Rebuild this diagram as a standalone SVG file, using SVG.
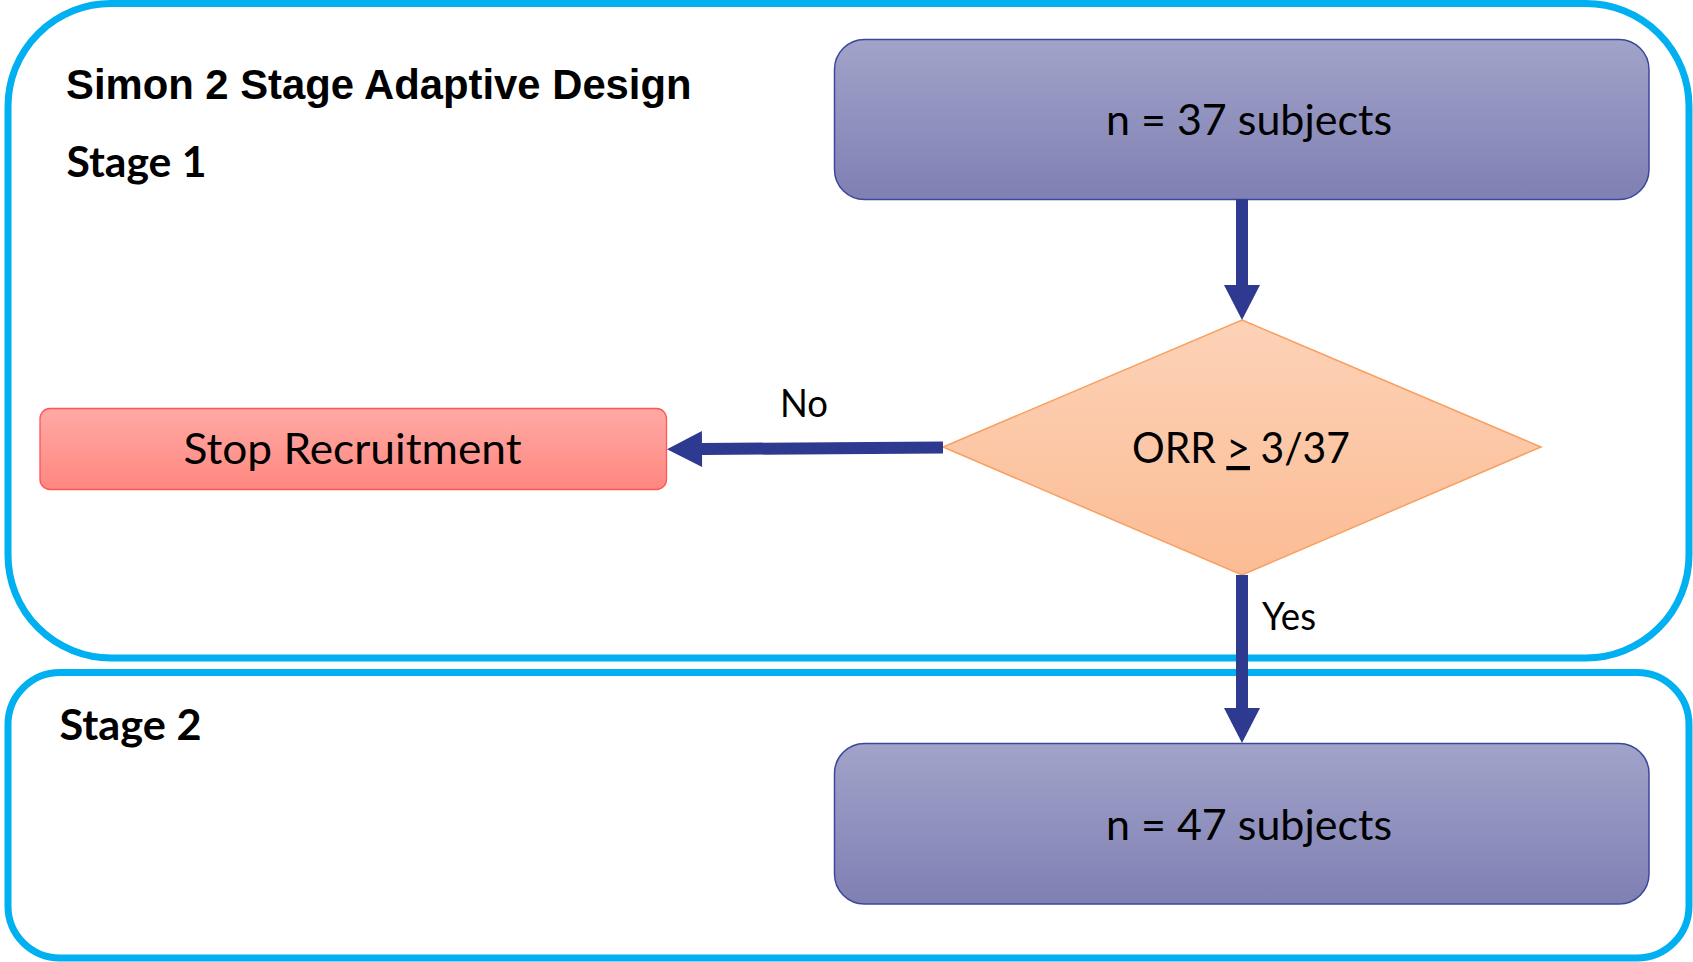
<svg xmlns="http://www.w3.org/2000/svg" width="1693" height="962" viewBox="0 0 1693 962">
  <style>
    .stage { fill: none; stroke: #00B0F0; stroke-width: 7; }
    .title { font-family: "Liberation Sans", Arial, sans-serif; font-weight: bold; font-size: 41.8px; fill: #000; }
    .stage-label { font-family: Lato, "Open Sans", sans-serif; font-weight: bold; font-size: 42px; fill: #000; }
    .label { font-family: Lato, "Open Sans", sans-serif; font-size: 42px; fill: #000; }
    .edge-label { font-family: Lato, "Open Sans", sans-serif; font-size: 39px; fill: #000; }
    .box { fill: url(#gradPurple); stroke: #3C479C; stroke-width: 1.5; }
    .stop { fill: url(#gradRed); stroke: #FF5555; stroke-width: 1.3; }
    .decision { fill: url(#gradOrange); stroke: #F7A060; stroke-width: 1.5; }
    .flow { fill: none; stroke: #2E3990; stroke-width: 12; }
  </style>
  <defs>
    <linearGradient id="gradPurple" x1="0" y1="0" x2="0" y2="1">
      <stop offset="0" stop-color="#A1A3C9"/>
      <stop offset="1" stop-color="#7F80B3"/>
    </linearGradient>
    <linearGradient id="gradRed" x1="0" y1="0" x2="0" y2="1">
      <stop offset="0" stop-color="#FFA9A5"/>
      <stop offset="1" stop-color="#FF877F"/>
    </linearGradient>
    <linearGradient id="gradOrange" x1="0" y1="0" x2="0" y2="1">
      <stop offset="0" stop-color="#FDD2B7"/>
      <stop offset="1" stop-color="#FBBC94"/>
    </linearGradient>
    <marker id="head" markerUnits="userSpaceOnUse" markerWidth="36" markerHeight="37" refX="0" refY="18" orient="auto" overflow="visible">
      <path d="M0,0 L35,18 L0,36 Z" fill="#2E3990"/>
    </marker>
  </defs>

  <!-- stage containers -->
  <g id="stage1">
    <rect class="stage" x="8" y="3.5" width="1681" height="654.5" rx="103" ry="103"/>
    <text class="title" x="66" y="99">Simon 2 Stage Adaptive Design</text>
    <text class="stage-label" x="66.5" y="176.5" textLength="140" lengthAdjust="spacingAndGlyphs">Stage 1</text>
  </g>
  <g id="stage2">
    <rect class="stage" x="8" y="672.5" width="1681" height="285.5" rx="52" ry="52"/>
    <text class="stage-label" x="59.5" y="739.5" textLength="142" lengthAdjust="spacingAndGlyphs">Stage 2</text>
  </g>

  <!-- flow nodes -->
  <g id="enroll-stage1">
    <rect class="box" x="834.5" y="39.5" width="814.5" height="160" rx="30" ry="30"/>
    <text class="label" x="1106" y="135" textLength="286" lengthAdjust="spacingAndGlyphs">n = 37 subjects</text>
  </g>
  <g id="decision">
    <polygon class="decision" points="1242,320 1541,447 1242,575 943,447"/>
    <text class="label" x="1132" y="463" textLength="218" lengthAdjust="spacingAndGlyphs">ORR <tspan text-decoration="underline">&gt;</tspan> 3/37</text>
  </g>
  <g id="stop">
    <rect class="stop" x="40" y="408.5" width="626.5" height="81" rx="10" ry="10"/>
    <text class="label" x="183.5" y="464" textLength="338" lengthAdjust="spacingAndGlyphs">Stop Recruitment</text>
  </g>
  <g id="enroll-stage2">
    <rect class="box" x="834.5" y="743.5" width="814.5" height="160.5" rx="30" ry="30"/>
    <text class="label" x="1106" y="840" textLength="286" lengthAdjust="spacingAndGlyphs">n = 47 subjects</text>
  </g>

  <!-- connectors -->
  <g id="connectors">
    <line class="flow" x1="1242" y1="199" x2="1242" y2="285" marker-end="url(#head)"/>
    <line class="flow" x1="943" y1="447.5" x2="702" y2="449" marker-end="url(#head)"/>
    <line class="flow" x1="1242" y1="575" x2="1242" y2="708" marker-end="url(#head)"/>
    <text class="edge-label" x="780" y="417" textLength="48" lengthAdjust="spacingAndGlyphs">No</text>
    <text class="edge-label" x="1262" y="630" textLength="54" lengthAdjust="spacingAndGlyphs">Yes</text>
  </g>
</svg>
